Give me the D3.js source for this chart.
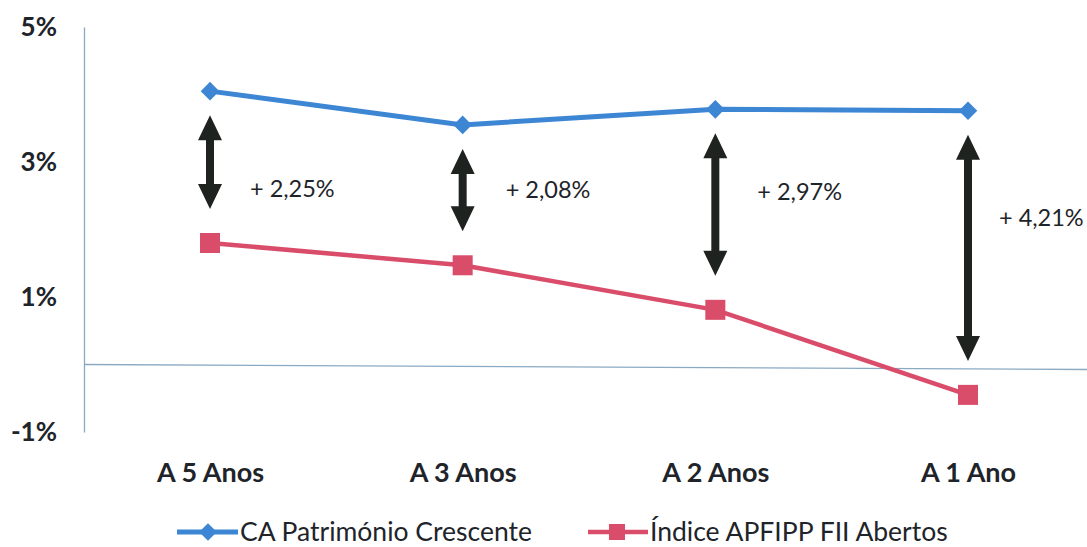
<!DOCTYPE html>
<html><head><meta charset="utf-8">
<script src="https://cdn.jsdelivr.net/npm/d3@7"></script>
<style>
html,body{margin:0;padding:0;background:#fff;}
svg{display:block;}
text{font-family:"Lato","Liberation Sans",sans-serif;}
</style></head>
<body>
<svg id="chart" width="1087" height="547"></svg>
<script>
const categories = ["A 5 Anos", "A 3 Anos", "A 2 Anos", "A 1 Ano"];
const seriesCA = [4.05, 3.55, 3.78, 3.76];
const seriesAPFIPP = [1.80, 1.47, 0.81, -0.45];
const diffLabels = ["+ 2,25%", "+ 2,08%", "+ 2,97%", "+ 4,21%"];
const yTicks = [-1, 1, 3, 5];
const seriesNames = ["CA Património Crescente", "Índice APFIPP FII Abertos"];

const blue = "#3c86d4", red = "#d94d6b";
const textCol = "#1e2429";
const svg = d3.select("#chart");

const x = d3.scalePoint().domain(categories).range([210, 968]);
const y = d3.scaleLinear().domain([-1, 5]).range([432, 27]);

// y axis
const yAxis = d3.axisLeft(y).tickValues(yTicks).tickSize(0).tickPadding(27).tickFormat(d => d + "%");
const gy = svg.append("g").attr("transform", "translate(84,0)").call(yAxis);
gy.select(".domain").attr("stroke", "#8aaac4").attr("stroke-width", 1.3);
gy.selectAll("text").attr("font-size", 26).attr("font-weight", "bold").attr("fill", textCol);

// zero line
svg.append("line").attr("x1", 84).attr("x2", 1087)
  .attr("y1", y(0)).attr("y2", y(0) + 5)
  .attr("stroke", "#8aaac4").attr("stroke-width", 1.3);

// x axis labels
const xAxis = d3.axisBottom(x).tickSize(0).tickPadding(0);
const gx = svg.append("g").attr("transform", "translate(0,473)").call(xAxis);
gx.select(".domain").remove();
gx.selectAll("text").attr("font-size", 27).attr("font-weight", "bold").attr("fill", textCol).attr("dy", "0.35em");

// lines
const line = d3.line().x((d, i) => x(categories[i])).y(d => y(d));
svg.append("path").datum(seriesCA).attr("d", line).attr("fill", "none").attr("stroke", blue).attr("stroke-width", 5);
svg.append("path").datum(seriesAPFIPP).attr("d", line).attr("fill", "none").attr("stroke", red).attr("stroke-width", 4.5);

svg.selectAll(".dia").data(seriesCA).enter().append("path")
  .attr("d", d3.symbol(d3.symbolDiamond2 || d3.symbolDiamond, 220)())
  .attr("transform", (d, i) => `translate(${x(categories[i])},${y(d)})`)
  .attr("fill", blue);
svg.selectAll(".sq").data(seriesAPFIPP).enter().append("rect")
  .attr("x", (d, i) => x(categories[i]) - 10).attr("y", d => y(d) - 10)
  .attr("width", 20).attr("height", 20).attr("fill", red);

// double arrows
const arrowColor = "#1f2320";
function dblArrow(cx, y1, y2) {
  const hw = 12, hl = 25, sw = 4;
  const p = [
    [cx, y1], [cx + hw, y1 + hl], [cx + sw, y1 + hl], [cx + sw, y2 - hl], [cx + hw, y2 - hl],
    [cx, y2], [cx - hw, y2 - hl], [cx - sw, y2 - hl], [cx - sw, y1 + hl], [cx - hw, y1 + hl]
  ];
  return "M" + p.map(q => q.join(",")).join("L") + "Z";
}
const arrowTops = seriesCA.map(v => y(v) + 24);
const arrowBots = seriesAPFIPP.map(v => y(v) - 34);
svg.selectAll(".arr").data(categories).enter().append("path")
  .attr("d", (c, i) => dblArrow(x(c), arrowTops[i], arrowBots[i]))
  .attr("fill", arrowColor);

// diff labels
const labelOffsets = [[40, 189], [43, 190], [42, 192], [31, 218]];
svg.selectAll(".dl").data(diffLabels).enter().append("text")
  .attr("x", (d, i) => x(categories[i]) + labelOffsets[i][0])
  .attr("y", (d, i) => labelOffsets[i][1])
  .attr("dy", "0.35em")
  .attr("font-size", 23.5).attr("fill", textCol)
  .text(d => d);

// legend
const lg = svg.append("g");
const ly = 532;
lg.append("line").attr("x1", 177).attr("x2", 238).attr("y1", ly).attr("y2", ly).attr("stroke", blue).attr("stroke-width", 5);
lg.append("path").attr("d", d3.symbol(d3.symbolDiamond2 || d3.symbolDiamond, 200)()).attr("transform", `translate(208,${ly})`).attr("fill", blue);
lg.append("text").attr("x", 240).attr("y", ly).attr("dy", "0.35em").attr("font-size", 26.5).attr("fill", textCol).text(seriesNames[0]);
lg.append("line").attr("x1", 588).attr("x2", 648).attr("y1", ly).attr("y2", ly).attr("stroke", red).attr("stroke-width", 4.5);
lg.append("rect").attr("x", 609).attr("y", ly - 8).attr("width", 16).attr("height", 16).attr("fill", red);
lg.append("text").attr("x", 650).attr("y", ly).attr("dy", "0.35em").attr("font-size", 26.5).attr("fill", textCol).text(seriesNames[1]);
</script>
</body></html>
